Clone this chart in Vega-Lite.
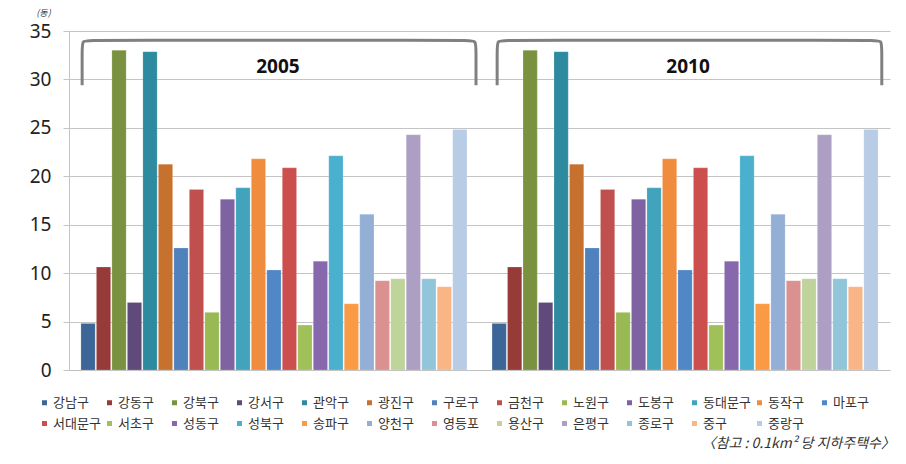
{
  "$schema": "https://vega.github.io/schema/vega-lite/v6.json",
  "width": 821,
  "height": 339,
  "autosize": {"type": "none"},
  "padding": {"left": 69, "top": 31, "right": 16, "bottom": 94},
  "background": "white",
  "title": {
    "text": "〈참고 : 0.1km² 당 지하주택수〉",
    "orient": "bottom",
    "anchor": "end",
    "frame": "group",
    "font": "Noto Sans CJK KR",
    "fontSize": 14,
    "fontStyle": "italic",
    "fontWeight": "normal",
    "color": "#333333",
    "offset": 6,
    "dx": 5
  },
  "config": {
    "view": {"stroke": null},
    "font": "Noto Sans CJK KR"
  },
  "datasets": {
    "bars": [
      {"year": "2005", "gu": "강남구", "value": 4.81},
      {"year": "2005", "gu": "강동구", "value": 10.63},
      {"year": "2005", "gu": "강북구", "value": 33.01},
      {"year": "2005", "gu": "강서구", "value": 6.98},
      {"year": "2005", "gu": "관악구", "value": 32.87},
      {"year": "2005", "gu": "광진구", "value": 21.25},
      {"year": "2005", "gu": "구로구", "value": 12.59},
      {"year": "2005", "gu": "금천구", "value": 18.64},
      {"year": "2005", "gu": "노원구", "value": 5.95},
      {"year": "2005", "gu": "도봉구", "value": 17.64},
      {"year": "2005", "gu": "동대문구", "value": 18.81},
      {"year": "2005", "gu": "동작구", "value": 21.8},
      {"year": "2005", "gu": "마포구", "value": 10.32},
      {"year": "2005", "gu": "서대문구", "value": 20.87},
      {"year": "2005", "gu": "서초구", "value": 4.64},
      {"year": "2005", "gu": "성동구", "value": 11.24},
      {"year": "2005", "gu": "성북구", "value": 22.11},
      {"year": "2005", "gu": "송파구", "value": 6.84},
      {"year": "2005", "gu": "양천구", "value": 16.09},
      {"year": "2005", "gu": "영등포", "value": 9.22},
      {"year": "2005", "gu": "용산구", "value": 9.42},
      {"year": "2005", "gu": "은평구", "value": 24.28},
      {"year": "2005", "gu": "종로구", "value": 9.42},
      {"year": "2005", "gu": "중구", "value": 8.6},
      {"year": "2005", "gu": "중랑구", "value": 24.83},
      {"year": "2010", "gu": "강남구", "value": 4.81},
      {"year": "2010", "gu": "강동구", "value": 10.63},
      {"year": "2010", "gu": "강북구", "value": 33.01},
      {"year": "2010", "gu": "강서구", "value": 6.98},
      {"year": "2010", "gu": "관악구", "value": 32.87},
      {"year": "2010", "gu": "광진구", "value": 21.25},
      {"year": "2010", "gu": "구로구", "value": 12.59},
      {"year": "2010", "gu": "금천구", "value": 18.64},
      {"year": "2010", "gu": "노원구", "value": 5.95},
      {"year": "2010", "gu": "도봉구", "value": 17.64},
      {"year": "2010", "gu": "동대문구", "value": 18.81},
      {"year": "2010", "gu": "동작구", "value": 21.8},
      {"year": "2010", "gu": "마포구", "value": 10.32},
      {"year": "2010", "gu": "서대문구", "value": 20.87},
      {"year": "2010", "gu": "서초구", "value": 4.64},
      {"year": "2010", "gu": "성동구", "value": 11.24},
      {"year": "2010", "gu": "성북구", "value": 22.11},
      {"year": "2010", "gu": "송파구", "value": 6.84},
      {"year": "2010", "gu": "양천구", "value": 16.09},
      {"year": "2010", "gu": "영등포", "value": 9.22},
      {"year": "2010", "gu": "용산구", "value": 9.42},
      {"year": "2010", "gu": "은평구", "value": 24.28},
      {"year": "2010", "gu": "종로구", "value": 9.42},
      {"year": "2010", "gu": "중구", "value": 8.6},
      {"year": "2010", "gu": "중랑구", "value": 24.83}
    ],
    "brackets": [
      {"grp": "2005", "ord": 1, "bx": 0.032, "value": 29.4},
      {"grp": "2005", "ord": 2, "bx": 0.032, "value": 33.0},
      {"grp": "2005", "ord": 3, "bx": 0.032, "value": 34.04},
      {"grp": "2005", "ord": 4, "bx": 0.05, "value": 34.04},
      {"grp": "2005", "ord": 5, "bx": 0.973, "value": 34.04},
      {"grp": "2005", "ord": 6, "bx": 0.9915, "value": 34.04},
      {"grp": "2005", "ord": 7, "bx": 0.9915, "value": 33.0},
      {"grp": "2005", "ord": 8, "bx": 0.9915, "value": 29.4},
      {"grp": "2010", "ord": 1, "bx": 1.043, "value": 29.4},
      {"grp": "2010", "ord": 2, "bx": 1.043, "value": 33.0},
      {"grp": "2010", "ord": 3, "bx": 1.043, "value": 34.04},
      {"grp": "2010", "ord": 4, "bx": 1.061, "value": 34.04},
      {"grp": "2010", "ord": 5, "bx": 1.962, "value": 34.04},
      {"grp": "2010", "ord": 6, "bx": 1.98, "value": 34.04},
      {"grp": "2010", "ord": 7, "bx": 1.98, "value": 33.0},
      {"grp": "2010", "ord": 8, "bx": 1.98, "value": 29.4}
    ],
    "labels": [
      {"label": "2005", "bx": 0.509, "value": 31.3},
      {"label": "2010", "bx": 1.508, "value": 31.3}
    ]
  },
  "resolve": {"scale": {"x": "independent"}},
  "layer": [
    {
      "data": {"name": "bars"},
      "mark": {"type": "bar", "stroke": "white", "strokeWidth": 0.3, "strokeOpacity": 0.6},
      "encoding": {
        "x": {
          "field": "year",
          "type": "nominal",
          "scale": {"paddingInner": 0.061, "paddingOuter": 0.029},
          "axis": {"labels": false, "ticks": false, "title": null, "domain": true, "domainColor": "#BFBFBF", "grid": false}
        },
        "xOffset": {
          "field": "gu",
          "type": "nominal",
          "sort": ["강남구","강동구","강북구","강서구","관악구","광진구","구로구","금천구","노원구","도봉구","동대문구","동작구","마포구","서대문구","서초구","성동구","성북구","송파구","양천구","영등포","용산구","은평구","종로구","중구","중랑구"],
          "scale": {"paddingInner": 0.08, "paddingOuter": 0}
        },
        "y": {
          "field": "value",
          "type": "quantitative",
          "title": "(동)",
          "scale": {"domain": [0, 35], "nice": false},
          "axis": {
            "values": [0, 5, 10, 15, 20, 25, 30, 35],
            "grid": true,
            "gridColor": "#C4C4C4",
            "domainColor": "#C4C4C4",
            "tickColor": "#C4C4C4",
            "tickSize": 6,
            "labelFontSize": 19,
            "labelColor": "#222222",
            "labelFont": "Noto Sans",
            "labelPadding": 12,
            "titleAngle": 0,
            "titleFontSize": 9,
            "titleFontStyle": "italic",
            "titleFontWeight": "normal",
            "titleColor": "#444444",
            "titleX": -26,
            "titleY": -19,
            "titleAlign": "center",
            "titleBaseline": "middle"
          }
        },
        "color": {
          "field": "gu",
          "type": "nominal",
          "scale": {
            "domain": ["강남구","강동구","강북구","강서구","관악구","광진구","구로구","금천구","노원구","도봉구","동대문구","동작구","마포구","서대문구","서초구","성동구","성북구","송파구","양천구","영등포","용산구","은평구","종로구","중구","중랑구"],
            "range": ["#3C6698","#973B39","#7A923F","#604A7B","#2E8A9E","#C7712F","#4F81BD","#C0504D","#98B954","#7F62A2","#41A3BC","#F08C3E","#5087C7","#CD4F4D","#A0C05A","#8868AC","#4BB0CE","#FB9A44","#94AFD6","#DA918F","#BFD49B","#AD9EC4","#91C6DA","#FAB586","#B9CCE5"]
          },
          "legend": {
            "title": null,
            "orient": "none",
            "legendX": -31,
            "legendY": 365,
            "direction": "horizontal",
            "columns": 13,
            "gridAlign": "all",
            "columnPadding": 2,
            "rowPadding": 7,
            "symbolType": "square",
            "symbolSize": 25,
            "symbolStrokeWidth": 0,
            "labelFontSize": 13,
            "labelFont": "Noto Sans CJK KR",
            "labelColor": "#333333",
            "labelOffset": 2,
            "padding": 0
          }
        }
      }
    },
    {
      "data": {"name": "brackets"},
      "mark": {"type": "line", "interpolate": "basis", "stroke": "#808080", "strokeWidth": 3},
      "encoding": {
        "x": {"field": "bx", "type": "quantitative", "scale": {"domain": [0, 2], "nice": false, "zero": false}, "axis": null},
        "y": {"field": "value", "type": "quantitative", "title": "(동)"},
        "detail": {"field": "grp", "type": "nominal"},
        "order": {"field": "ord", "type": "quantitative"}
      }
    },
    {
      "data": {"name": "labels"},
      "mark": {"type": "text", "fontSize": 19, "fontWeight": "bold", "font": "Noto Sans", "color": "#111111", "align": "center", "baseline": "middle"},
      "encoding": {
        "x": {"field": "bx", "type": "quantitative", "scale": {"domain": [0, 2], "nice": false, "zero": false}, "axis": null},
        "y": {"field": "value", "type": "quantitative", "title": "(동)"},
        "text": {"field": "label", "type": "nominal"}
      }
    }
  ]
}
